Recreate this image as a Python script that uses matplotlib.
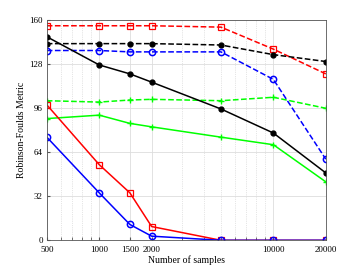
import numpy as np
import matplotlib
matplotlib.use("Agg")
import matplotlib.pyplot as plt

plt.rcParams['font.family'] = ['Liberation Serif', 'DejaVu Serif']

samples = [500, 1000, 1500, 2000, 5000, 10000, 20000]
xticks = [500, 1000, 1500, 2000, 10000, 20000]
yticks = [0, 32, 64, 96, 128, 160]

red_dash = [156, 156, 156, 156, 155, 139, 121]
black_dash = [143, 143, 143, 143, 142, 135, 130]
blue_dash = [138, 138, 137, 137, 137, 117, 59]
green_dash = [101.5, 100.5, 102, 102.5, 101.5, 104, 96]
black_solid = [148, 127.5, 121, 115, 95.5, 78, 49]
green_solid = [88.5, 91, 85, 82.5, 75, 69.5, 42.5]
red_solid = [98.5, 55, 34.5, 10, 0, 0, 0]
blue_solid = [75, 34.5, 11.5, 3, 0, 0, 0]

fig = plt.figure(figsize=(3.6, 2.7), dpi=100)
ax = fig.add_axes([0.13, 0.11, 0.775, 0.815])

lw = 1.1
ms = 4
ax.plot(samples, red_dash, '--s', color='red', lw=lw, ms=ms, mfc='none', mew=0.9)
ax.plot(samples, black_dash, '--o', color='black', lw=lw, ms=3.5, mfc='black')
ax.plot(samples, blue_dash, '--o', color='blue', lw=lw, ms=ms + 0.5, mfc='none', mew=1.1)
ax.plot(samples, green_dash, '--+', color='#00ff00', lw=lw, ms=ms + 1, mew=1.0)
ax.plot(samples, black_solid, '-o', color='black', lw=lw, ms=3.5, mfc='black')
ax.plot(samples, green_solid, '-+', color='#00ff00', lw=lw, ms=ms + 1, mew=1.0)
ax.plot(samples, red_solid, '-s', color='red', lw=lw, ms=ms, mfc='none', mew=0.9)
ax.plot(samples, blue_solid, '-o', color='blue', lw=lw, ms=ms + 0.5, mfc='none', mew=1.1)

ax.set_xscale('log')
ax.set_xlim(500, 20000)
ax.set_ylim(0, 160)
ax.set_xticks(xticks)
ax.set_xticklabels([str(t) for t in xticks])
ax.set_yticks(yticks)
ax.tick_params(axis='both', which='both', direction='in', labelsize=6.5,
               length=2.5, color='#555555')
ax.tick_params(axis='x', which='major', pad=4)
ax.tick_params(axis='y', which='major', pad=3)
ax.tick_params(axis='y', which='minor', left=False)
ax.grid(True, which='major', color='#dddddd', lw=0.6)
ax.grid(True, which='minor', axis='x', color='#cccccc', lw=0.5, ls=':')
ax.set_axisbelow(True)
for s in ax.spines.values():
    s.set_color('#555555')
    s.set_linewidth(0.6)

ax.set_xlabel('Number of samples', fontsize=7, labelpad=1)
ax.set_ylabel('Robinson-Foulds Metric', fontsize=7, labelpad=2)

fig.savefig('out.png', dpi=100)
